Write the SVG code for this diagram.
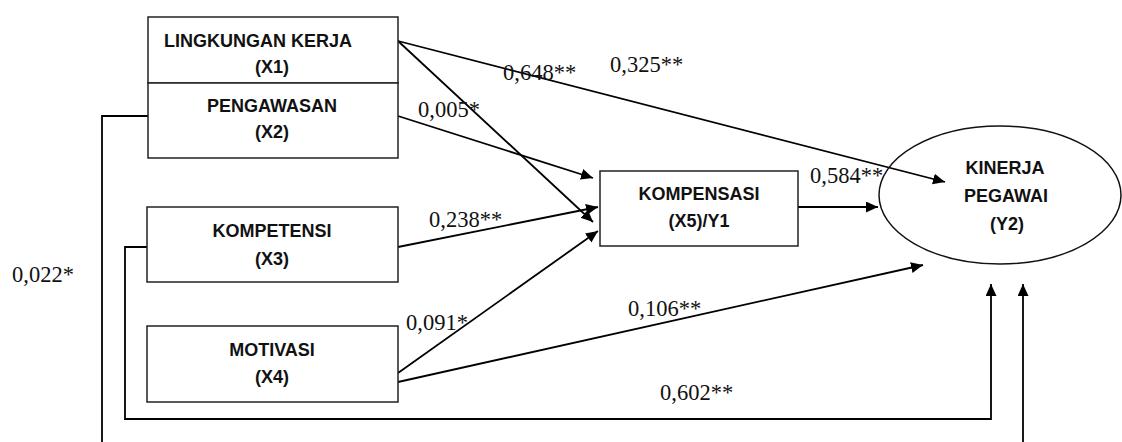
<svg xmlns="http://www.w3.org/2000/svg" width="1122" height="442" viewBox="0 0 1122 442">
<defs>
<marker id="ah" markerUnits="userSpaceOnUse" markerWidth="14" markerHeight="12" refX="12" refY="5.5" orient="auto">
<path d="M0,0 L12,5.5 L0,11 z" fill="#000"/>
</marker>
<style>
.box{fill:#fff;stroke:#222;stroke-width:1.5}
.lbl{font-family:"Liberation Sans",Arial,sans-serif;font-weight:bold;font-size:18px;fill:#111;text-anchor:middle}
.num{font-family:"Liberation Serif","Times New Roman",serif;font-size:22.5px;fill:#111}
.c{fill:none;stroke:#000;stroke-width:1.8}
.a{fill:none;stroke:#000;stroke-width:1.8;marker-end:url(#ah)}
</style>
</defs>
<rect width="1122" height="442" fill="#fff"/>
<g id="connectors">
<path class="c" d="M148,116 H102 V442"/>
<path class="a" d="M147,247 H125 V419 H991 V284"/>
<path class="a" d="M1023,442 V284"/>
<line class="a" x1="398" y1="41" x2="945" y2="182"/>
<line class="a" x1="398" y1="41" x2="593" y2="222"/>
<line class="a" x1="398" y1="116" x2="593" y2="178"/>
<line class="a" x1="398" y1="247" x2="598" y2="207"/>
<line class="a" x1="398" y1="373" x2="598" y2="231"/>
<line class="a" x1="398" y1="382" x2="923" y2="265"/>
<line class="a" x1="798" y1="207" x2="878" y2="207"/>
</g>
<g id="X1">
<rect class="box" x="148" y="17" width="250" height="66"/>
<text class="lbl" x="258" y="47">LINGKUNGAN KERJA</text>
<text class="lbl" x="272" y="73">(X1)</text>
</g>
<g id="X2">
<rect class="box" x="148" y="83" width="250" height="75"/>
<text class="lbl" x="272" y="112">PENGAWASAN</text>
<text class="lbl" x="272" y="138">(X2)</text>
</g>
<g id="X3">
<rect class="box" x="147" y="207" width="251" height="75"/>
<text class="lbl" x="272" y="237">KOMPETENSI</text>
<text class="lbl" x="272" y="265">(X3)</text>
</g>
<g id="X4">
<rect class="box" x="147" y="326" width="251" height="76"/>
<text class="lbl" x="272" y="356">MOTIVASI</text>
<text class="lbl" x="272" y="383">(X4)</text>
</g>
<g id="X5">
<rect class="box" x="600" y="171" width="198" height="75"/>
<text class="lbl" x="699" y="200">KOMPENSASI</text>
<text class="lbl" x="699" y="227">(X5)/Y1</text>
</g>
<g id="Y2">
<ellipse cx="1000" cy="195" rx="121" ry="69" fill="none" stroke="#111" stroke-width="1.5"/>
<text class="lbl" x="1005" y="174">KINERJA</text>
<text class="lbl" x="1006" y="202">PEGAWAI</text>
<text class="lbl" x="1007" y="230">(Y2)</text>
</g>
<g id="labels">
<text class="num" x="610" y="72">0,325**</text>
<text class="num" x="503" y="80">0,648**</text>
<text class="num" x="418" y="117">0,005*</text>
<text class="num" x="429" y="227">0,238**</text>
<text class="num" x="810" y="183">0,584**</text>
<text class="num" x="406" y="330">0,091*</text>
<text class="num" x="628" y="316">0,106**</text>
<text class="num" x="660" y="400">0,602**</text>
<text class="num" x="12" y="282">0,022*</text>
</g>
</svg>
